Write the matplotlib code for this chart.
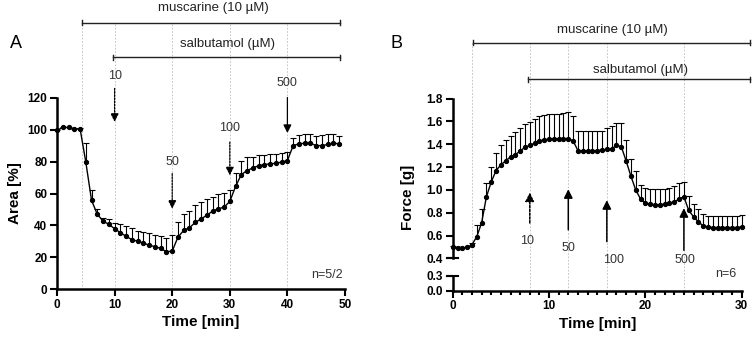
import numpy as np
import matplotlib
matplotlib.use("Agg")
from matplotlib import pyplot as plt
from matplotlib import transforms

plt.rcParams['font.family'] = ['Liberation Sans', 'DejaVu Sans']

# ---- panel A data (area, 1 min steps) ----
time_a = np.arange(0, 50)
area_mean = [99.6, 101.5, 101.5, 100.4, 100.8, 79.8, 55.7, 46.9, 42.7, 40.6,
             37.9, 35.4, 33.1, 31.0, 30.0, 28.9, 27.5, 26.6, 25.5, 23.4,
             23.8, 32.6, 36.8, 38.5, 41.8, 44.0, 46.3, 48.9, 50.4, 51.4,
             55.0, 64.4, 71.9, 74.4, 76.1, 77.4, 78.2, 78.6, 79.0, 79.7,
             80.7, 90.1, 91.2, 91.6, 91.6, 90.1, 90.1, 90.8, 91.6, 91.2]
area_top = [100.0, 101.9, 101.9, 100.8, 101.2, 91.8, 62.5, 50.0, 44.7, 44.1,
            41.6, 41.0, 39.5, 38.2, 36.3, 35.7, 35.1, 34.2, 33.2, 32.2,
            34.2, 42.0, 47.2, 49.3, 52.5, 54.4, 56.6, 58.1, 59.4, 60.2,
            62.3, 73.0, 80.7, 82.8, 83.2, 83.9, 84.5, 84.9, 84.9, 85.3,
            86.0, 95.0, 96.9, 97.5, 97.5, 96.4, 96.9, 97.5, 97.5, 96.2]

# ---- panel B data (force, 0.5 min steps) ----
time_b = np.arange(0, 30.5, 0.5)
force_mean = [0.50, 0.49, 0.49, 0.495, 0.52, 0.59, 0.71, 0.94, 1.07, 1.17,
              1.22, 1.255, 1.29, 1.31, 1.34, 1.375, 1.39, 1.41, 1.43, 1.44,
              1.445, 1.445, 1.45, 1.45, 1.45, 1.43, 1.345, 1.34, 1.34, 1.34,
              1.345, 1.35, 1.355, 1.36, 1.39, 1.38, 1.255, 1.12, 1.00, 0.92,
              0.885, 0.875, 0.87, 0.87, 0.875, 0.885, 0.895, 0.92, 0.94, 0.82,
              0.765, 0.72, 0.685, 0.675, 0.67, 0.67, 0.67, 0.67, 0.67, 0.67,
              0.675]
force_top = [0.51, 0.495, 0.495, 0.50, 0.53, 0.69, 0.83, 1.06, 1.20, 1.32,
             1.39, 1.435, 1.475, 1.51, 1.545, 1.58, 1.60, 1.625, 1.645, 1.66,
             1.665, 1.67, 1.67, 1.675, 1.68, 1.65, 1.52, 1.515, 1.515, 1.515,
             1.515, 1.52, 1.54, 1.56, 1.59, 1.585, 1.44, 1.27, 1.17, 1.045,
             1.015, 1.01, 1.01, 1.01, 1.01, 1.02, 1.035, 1.06, 1.07, 0.95,
             0.88, 0.83, 0.79, 0.775, 0.775, 0.775, 0.775, 0.775, 0.775, 0.775,
             0.78]

# additions (arrows) and guide lines
conc_labels = ['10', '50', '100', '500']
add_a = [10, 20, 30, 40]
add_b = [8, 12, 16, 24]
guides_a = [4.4, 10, 20, 30, 40]
guides_b = [2, 8, 12, 16, 24]

W, H = 753, 343
fig = plt.figure(figsize=(W / 100, H / 100), dpi=100)
TICK_FS = 8.5


def fy(px):
    # pixel row -> figure fraction
    return 1 - px / H


def style_ax(ax):
    for s in ['top', 'right']:
        ax.spines[s].set_visible(False)
    for s in ['left', 'bottom']:
        ax.spines[s].set_linewidth(1.8)
    ax.tick_params(width=1.5, length=5, pad=2)


def draw_series(ax, x, mean, top):
    ax.vlines(x, mean, top, color='k', lw=0.8, clip_on=False)
    ax.plot(x, top, ls='none', marker='_', ms=4, mew=0.8, color='k', clip_on=False)
    ax.plot(x, mean, '-o', color='k', lw=1, ms=2.8, clip_on=False, zorder=3)


def treatment_bar(ax, x0, x1, ypx, text, xtext, ytext_px):
    tr = transforms.blended_transform_factory(ax.transData, fig.transFigure)
    y = fy(ypx)
    d = 2.5 / H
    ax.plot([x0, x1], [y, y], color='#222222', lw=1, transform=tr, clip_on=False)
    for xe in (x0, x1):
        ax.plot([xe, xe], [y - d, y + d], color='#222222', lw=1, transform=tr, clip_on=False)
    ax.text(xtext, fy(ytext_px), text, transform=tr, ha='center', va='center',
            fontsize=9.5, color='#222222')


def guide_lines(ax, xs, ybottom, ytop_px):
    tr = transforms.blended_transform_factory(ax.transData, fig.transFigure)
    for xg in xs:
        ax.plot([xg, xg], [ybottom, fy(ytop_px)], color='#bbbbbb', lw=0.6,
                ls=(0, (2, 2)), transform=tr, clip_on=False, zorder=0)


# ================= panel A =================
axA = fig.add_axes([57 / W, 1 - 289 / H, 288 / W, 191 / H])
guide_lines(axA, guides_a, 1 - 289 / H, 23)
draw_series(axA, time_a, area_mean, area_top)
axA.set_xlim(0, 50)
axA.set_ylim(0, 120)
xt_a = np.arange(0, 51, 10)
yt_a = np.arange(0, 121, 20)
axA.set_xticks(xt_a, [str(v) for v in xt_a], fontweight='bold', fontsize=TICK_FS)
axA.set_yticks(yt_a, [str(v) for v in yt_a], fontweight='bold', fontsize=TICK_FS)
style_ax(axA)
axA.set_xlabel('Time [min]', fontsize=11, fontweight='bold', labelpad=3)
axA.set_ylabel('Area [%]', fontsize=11, fontweight='bold', labelpad=4)

starts_a = [126, 72.5, 92.3, 120.3]
tips_a = [105, 50.4, 71.4, 98]
labely_a = [133.6, 79.7, 101, 129.7]
for i, x in enumerate(add_a):
    ls = '-' if conc_labels[i] == '500' else (0, (1.5, 1))
    axA.annotate('', xy=(x, tips_a[i]), xytext=(x, starts_a[i]),
                 arrowprops=dict(arrowstyle='-|>', color='k', lw=0.9, ls=ls,
                                 mutation_scale=12, shrinkA=0, shrinkB=0),
                 annotation_clip=False)
    axA.text(x, labely_a[i], conc_labels[i], ha='center', va='center',
             fontsize=9, color='#333333', clip_on=False)
axA.text(49.7, 9, 'n=5/2', ha='right', va='center', fontsize=9, color='#333333')

treatment_bar(axA, 4.4, 49.1, 22.7, 'muscarine (10 µM)', 27.2, 7.5)
treatment_bar(axA, 9.8, 49.1, 57.3, 'salbutamol (µM)', 29.6, 44.3)

# ================= panel B (broken y axis) =================
x0b, x1b = 452.7, 741.7
axB = fig.add_axes([x0b / W, 1 - 258.3 / H, (x1b - x0b) / W, (258.3 - 98.7) / H])
axB2 = fig.add_axes([x0b / W, 1 - 290.7 / H, (x1b - x0b) / W, (290.7 - 276) / H])
axB.set_zorder(2)

guide_lines(axB2, guides_b, 1 - 290.7 / H, 42.7)
draw_series(axB, time_b, force_mean, force_top)

yt_b = np.arange(0.4, 1.81, 0.2)
axB.set_xlim(0, 30)
axB.set_ylim(0.4, 1.8)
axB.set_yticks(yt_b, [f'{v:.1f}' for v in yt_b], fontweight='bold', fontsize=TICK_FS)
axB.set_xticks([])
style_ax(axB)
axB.spines['bottom'].set_visible(False)

xt_b = [0, 10, 20, 30]
axB2.set_xlim(0, 30)
axB2.set_ylim(0, 0.3)
axB2.set_yticks([0.0, 0.3], ['0.0', '0.3'], fontweight='bold', fontsize=TICK_FS)
axB2.set_xticks(xt_b, [str(v) for v in xt_b], fontweight='bold', fontsize=TICK_FS)
axB2.set_xticks(np.arange(0, 31, 1), minor=True)
style_ax(axB2)
axB2.tick_params(axis='x', which='minor', length=3, width=1.5)
axB2.set_xlabel('Time [min]', fontsize=11, fontweight='bold', labelpad=3)
axB2.patch.set_visible(False)
axB.patch.set_visible(False)

# break marks (short bars across the spine at the cut)
for ax, yb in ((axB, 0.4), (axB2, 0.3)):
    trb = transforms.blended_transform_factory(ax.transAxes, ax.transData)
    ax.plot([-0.018, 0.018], [yb, yb], color='k', lw=1.5, transform=trb, clip_on=False)

fig.text(408 / W, fy(197), 'Force [g]', rotation=90, ha='center', va='center',
         fontsize=11, fontweight='bold')

starts_b = [0.71, 0.65, 0.546, 0.47]
tips_b = [0.977, 1.006, 0.91, 0.84]
label_xb = [7.7, 12.0, 16.7, 24.1]
label_yb = [0.555, 0.49, 0.385, 0.385]
for i, x in enumerate(add_b):
    ls = (0, (1.5, 1)) if conc_labels[i] == '10' else '-'
    axB.annotate('', xy=(x, tips_b[i]), xytext=(x, starts_b[i]),
                 arrowprops=dict(arrowstyle='-|>', color='k', lw=1.1, ls=ls,
                                 mutation_scale=13, shrinkA=0, shrinkB=0),
                 annotation_clip=False)
    axB.text(label_xb[i], label_yb[i], conc_labels[i], ha='center', va='center',
             fontsize=9, color='#333333', clip_on=False)
axB.text(29.4, 0.26, 'n=6', ha='right', va='center', fontsize=9, color='#333333',
         clip_on=False)

treatment_bar(axB, 2.1, 30.87, 42.7, 'muscarine (10 µM)', 16.6, 30)
treatment_bar(axB, 7.85, 30.87, 79, 'salbutamol (µM)', 19.45, 70)

fig.text(16 / W, fy(44), 'A', fontsize=13, ha='center', va='center')
fig.text(396 / W, fy(44), 'B', fontsize=13, ha='center', va='center')

plt.savefig('out.png', dpi=100)
